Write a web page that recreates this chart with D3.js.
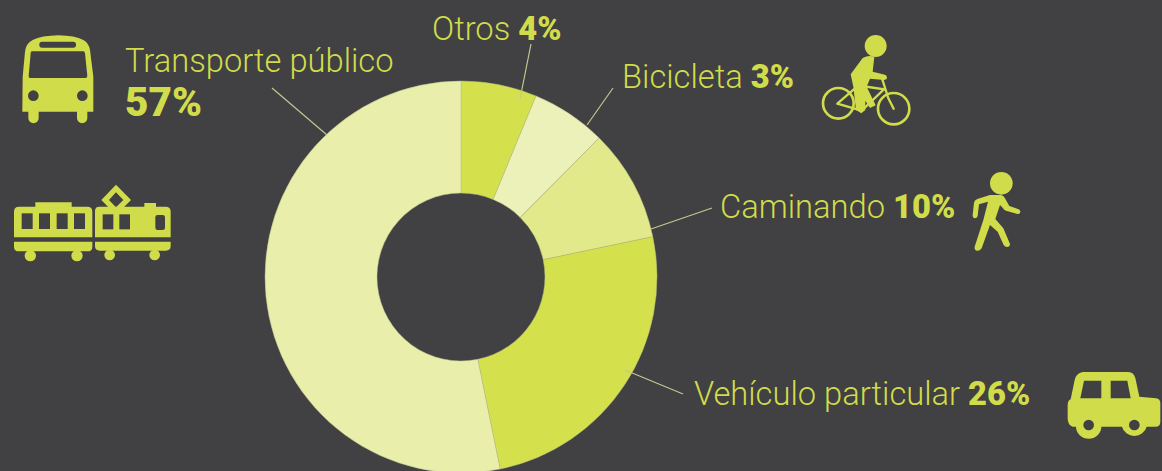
<!DOCTYPE html>
<html><head><meta charset="utf-8">
<script src="https://cdn.jsdelivr.net/npm/d3@7"></script>
<style>html,body{margin:0;padding:0;background:#414042;overflow:hidden}svg{display:block}</style>
</head><body><svg id="c" width="1162" height="471"></svg>
<script>
const categories = ["Otros","Bicicleta","Caminando","Vehículo particular","Transporte público"];
const labelValues = [4,3,10,26,57];
const drawnShares = [6.25,6.2,9.25,25.1,53.2];
const sliceColors = ["#d4e04c","#ecf1b9","#e2e98a","#d4e04c","#e9efaa"];
const bg = "#414042", ink = "#d0dc4a";
const svg = d3.select("#c");
svg.append("rect").attr("width",1162).attr("height",471).attr("fill",bg);

const pie = d3.pie().sort(null).value(d=>d);
const arc = d3.arc().innerRadius(84).outerRadius(196);
const g = svg.append("g").attr("transform","translate(461,277)");
g.selectAll("path").data(pie(drawnShares)).join("path")
  .attr("d",arc).attr("fill",(d,i)=>sliceColors[i])
  .attr("stroke","#b9bf86").attr("stroke-width",0.5);

const leaders = [[531,44,520,99],[613,88,587,125],[712,208,651,229],[683,394,625,370],[272,88,327,135]];
svg.selectAll("line.l").data(leaders).join("line").attr("class","l")
  .attr("x1",d=>d[0]).attr("y1",d=>d[1]).attr("x2",d=>d[2]).attr("y2",d=>d[3])
  .attr("stroke","#c3c88e").attr("stroke-width",1.2);

const font = "Roboto, sans-serif";
function label(i,x,y,inline){
  const t = svg.append("text").attr("x",x).attr("y",y).attr("fill",ink)
    .attr("font-family",font).attr("font-size",32.7).attr("font-weight",300);
  t.append("tspan").text(categories[i]+(inline?" ":""));
  if(inline) t.append("tspan").attr("font-weight",900).text(labelValues[i]+"%");
}
label(0,432,40,true);
label(1,622,88,true);
label(2,720,218,true);
label(3,694,405,true);
label(4,125,72,false);
svg.append("text").attr("x",125).attr("y",116).attr("fill",ink).attr("font-family",font)
  .attr("font-size",40.5).attr("font-weight",900).text(labelValues[4]+"%");

// icons, drawn in zoomed-crop units (1/3 px)
function icon(x,y){return svg.append("g").attr("transform",`translate(${x},${y}) scale(${1/3})`);}
function P(g,d,f){return g.append("path").attr("d",d).attr("fill",f||ink);}
function C(g,x,y,r,f){return g.append("circle").attr("cx",x).attr("cy",y).attr("r",r).attr("fill",f||ink);}
function R(g,x,y,w,h,r,f){return g.append("rect").attr("x",x).attr("y",y).attr("width",w).attr("height",h).attr("rx",r||0).attr("fill",f||ink);}

// bus
const bus = icon(0,20);
P(bus,"M175 46 Q125 47 98 60 Q78 70 75 95 L68 170 L67 275 L85 275 L85 295 A15 14 0 0 0 116 295 L116 275 L231 275 L231 295 A15 14 0 0 0 262 295 L262 275 L280 275 L280 170 L270 90 Q267 70 250 60 Q225 47 175 46Z");
R(bus,118,65,110,18,8,bg);
P(bus,"M96 94 L250 94 Q254 94 255 100 L262 168 Q262 174 256 174 L91 174 Q85 174 86 168 L92 100 Q92 94 96 94Z",bg);
C(bus,100,227,16,bg); C(bus,247,227,16,bg);

// trams
const tr = icon(0,20);
P(tr,"M106 560 L106 547 L215 547 L215 560 L262 560 Q277 560 277 575 L277 652 L42 652 L42 575 Q42 560 57 560Z");
[65,117,170,222].forEach(x=>R(tr,x,580,33,47,0,bg));
P(tr,"M42 665 L277 665 L277 680 Q277 694 262 694 L57 694 Q42 694 42 680Z");
C(tr,91,707,17); C(tr,231,707,17);
P(tr,"M298 560 L433 560 L433 549 L468 549 L468 560 L497 560 Q512 560 512 575 L512 652 L285 652 L285 573 Q285 560 298 560Z");
[308,358].forEach(x=>R(tr,x,583,32,45,0,bg));
R(tr,466,585,29,45,7,bg);
P(tr,"M285 665 L512 665 L512 678 Q512 692 497 692 L300 692 Q285 692 285 678Z");
C(tr,329,705,16); C(tr,464,705,16);
P(tr,"M348 494 L393 540 L348 585 L304 540Z M348 517 L327 540 L348 562 L370 540Z").attr("fill-rule","evenodd");

// cyclist
const bk = icon(820,30);
C(bk,167,48,33);
P(bk,"M128 84 Q145 74 163 80 L158 125 L195 134 Q203 138 200 147 L193 150 L150 146 L140 170 L167 226 L150 234 L136 212 L136 240 L124 250 L108 240 L100 170 L92 133Z");
[[55,220,46],[221,236,47]].forEach(w=>bk.append("circle").attr("cx",w[0]).attr("cy",w[1]).attr("r",w[2]).attr("fill","none").attr("stroke",ink).attr("stroke-width",8));
bk.append("path").attr("d","M186 145 L205 205 L221 236 M52 221 L105 175 M52 221 L125 242 L192 178 L105 165")
  .attr("fill","none").attr("stroke",ink).attr("stroke-width",7).attr("stroke-linecap","round");

// walker
const wk = icon(800,20);
C(wk,604,490,34);
P(wk,"M570 525 L602 525 Q610 525 614 533 L628 558 L656 568 Q664 572 659 580 Q657 583 650 581 L618 572 Q612 570 608 563 L600 555 L586 597 L610 625 L630 672 Q630 680 622 681 Q615 681 611 675 L593 635 L570 615 L545 685 Q540 694 530 692 Q522 690 524 680 L550 600 L564 545 L537 553 L533 588 Q530 596 524 595 Q517 593 518 585 L522 548 Q523 540 532 537Z");

// car
const car = icon(1040,350);
P(car,"M128 66 L265 66 Q281 66 286 84 L298 140 L348 145 Q361 146 361 160 L361 215 Q361 230 346 230 L320 230 A38 36 0 0 1 246 230 L184 230 A38 36 0 0 1 108 230 L98 230 Q83 225 83 205 L83 165 Q83 152 92 148 L104 90 Q108 70 128 66Z");
P(car,"M132 92 L184 92 L184 145 L121 145Z",bg);
P(car,"M212 92 L262 92 L272 145 L212 145Z",bg);
C(car,146,225,16,bg); C(car,283,225,16,bg);
</script></body></html>
